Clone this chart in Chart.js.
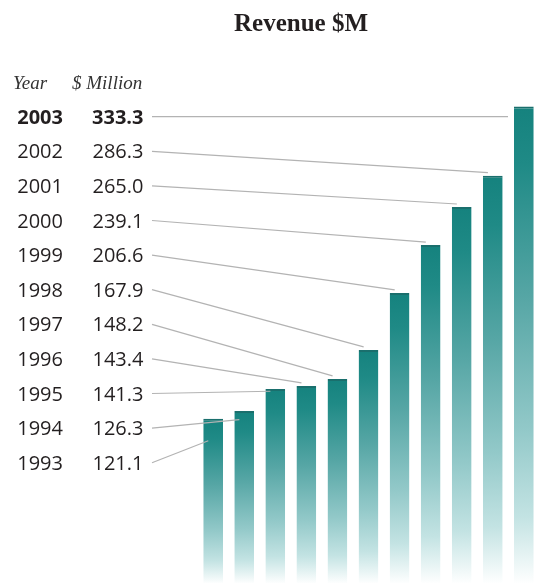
<!DOCTYPE html>
<html>
<head>
<meta charset="utf-8">
<script src="https://cdn.jsdelivr.net/npm/chart.js@4/dist/chart.umd.min.js"></script>
<style>
  html, body { margin: 0; padding: 0; background: #ffffff; }
  #stage { position: relative; width: 542px; height: 583px; overflow: hidden; background: #fff; }
  #wrap { position: absolute; left: 0; top: 0; width: 542px; height: 597px; }
  .t { position: absolute; white-space: nowrap; color: #231f20; }
  .title { font-family: "Liberation Serif", serif; font-weight: bold; font-size: 25px; transform: translate(-50%, -50%); }
  .head { font-family: "Liberation Serif", serif; font-style: italic; font-size: 19px; transform: translateY(-50%); color: #333; }
  .row { font-family: "Open Sans", sans-serif; font-size: 20px; transform: translate(-100%, -50%); line-height: 24px; }
  .bold { font-weight: bold; }
</style>
</head>
<body>
<div id="stage">
  <div id="wrap"><canvas id="c"></canvas></div>
</div>
<script>
// ---- data ----
const years = ['1993','1994','1995','1996','1997','1998','1999','2000','2001','2002','2003'];
const revenue = [121.1, 126.3, 141.3, 143.4, 148.2, 167.9, 206.6, 239.1, 265.0, 286.3, 333.3];
const revenueLabels = ['121.1','126.3','141.3','143.4','148.2','167.9','206.6','239.1','265.0','286.3','333.3'];
const titleText = 'Revenue $M';
const headYear = 'Year';
const headValue = '$ Million';

// ---- layout of the side table ----
const rowTop = 116.7, rowStep = 34.6;   // first row (2003) centre and spacing
const yearRight = 63, valueRight = 143.5, leaderStart = 152;

const stage = document.getElementById('stage');
function addText(cls, txt, x, y) {
  const d = document.createElement('div');
  d.className = 't ' + cls;
  d.textContent = txt;
  d.style.left = x + 'px';
  d.style.top = y + 'px';
  stage.appendChild(d);
  return d;
}
addText('title', titleText, 301, 23);
addText('head', headYear, 13, 82.5);
addText('head', headValue, 72, 82.5);
const n = years.length;
function rowY(i) { return rowTop + (n - 1 - i) * rowStep; }
for (let i = 0; i < n; i++) {
  const b = (i === n - 1) ? ' bold' : '';
  addText('row' + b, years[i], yearRight, rowY(i));
  addText('row' + b, revenueLabels[i], valueRight, rowY(i));
}

function barFill(c) {
  const chart = c.chart;
  if (!chart.chartArea || c.type !== 'data') return '#2a8d89';
  const top = chart.scales.y.getPixelForValue(c.raw);
  const bottom = 584;
  const g = chart.ctx.createLinearGradient(0, top, 0, bottom);
  g.addColorStop(0, '#15827e');
  g.addColorStop(0.12, '#1f8a86');
  g.addColorStop(0.4, '#56a6a5');
  g.addColorStop(0.68, '#93c9c9');
  g.addColorStop(0.86, '#c3e3e3');
  g.addColorStop(1, '#ffffff');
  return g;
}

const leaders = {
  id: 'leaders',
  afterDatasetsDraw(chart) {
    const ctx = chart.ctx;
    const meta = chart.getDatasetMeta(0);
    ctx.save();
    ctx.strokeStyle = '#b3b3b3';
    ctx.lineWidth = 1.2;
    meta.data.forEach((el, i) => {
      const ly = rowY(i);
      const left = el.x - el.width / 2;
      const top = el.y;
      let ex, ey;
      if (i === n - 1) { ex = left - 6; ey = ly; }
      else if (ly > top) { ex = left + 5; ey = (ly + top) / 2; }
      else { ex = left + 5; ey = top - 3; }
      ctx.beginPath();
      ctx.moveTo(leaderStart, ly);
      ctx.lineTo(ex, ey);
      ctx.stroke();
    });
    ctx.restore();
  }
};

new Chart(document.getElementById('c'), {
  type: 'bar',
  data: {
    labels: years,
    datasets: [{
      data: revenue,
      backgroundColor: barFill,
      borderColor: '#1a6f6d',
      borderWidth: { top: 2, left: 0, right: 0, bottom: 0 },
      categoryPercentage: 1,
      barPercentage: 0.635
    }]
  },
  options: {
    responsive: true,
    maintainAspectRatio: false,
    animation: false,
    devicePixelRatio: 1,
    layout: { padding: { left: 197.6, right: 2.6, top: 8.3, bottom: 0 } },
    scales: {
      x: { display: false },
      y: { display: false, min: 0, max: 400 }
    },
    plugins: { legend: { display: false }, tooltip: { enabled: false }, title: { display: false } }
  },
  plugins: [leaders]
});
</script>
</body>
</html>
